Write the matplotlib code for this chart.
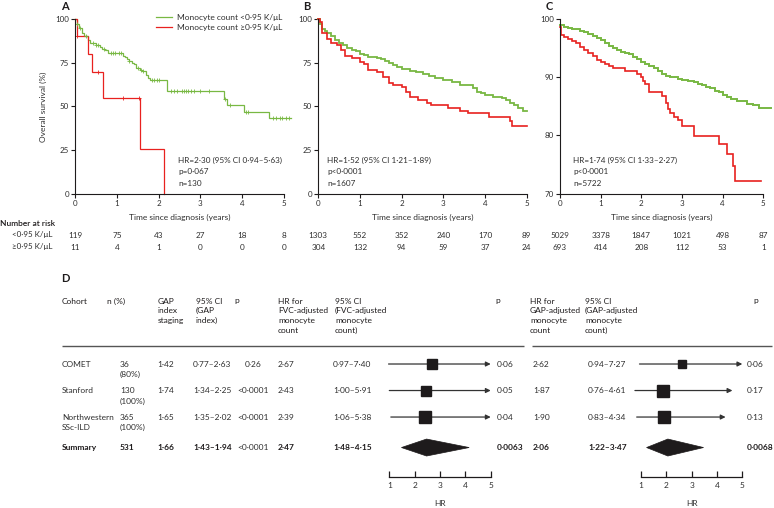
import matplotlib
matplotlib.use("Agg")
import matplotlib.pyplot as plt
import matplotlib.transforms as mtransforms
from matplotlib.patches import Polygon
import numpy as np

plt.rcParams['font.family'] = ['Lato', 'DejaVu Sans']

W, H = 774, 508
GREEN = '#78b843'
RED = '#e8211f'
INK = '#1e1b1c'
GREY = '#2e2e2e'

# ---- Kaplan-Meier curves ----
a_low_t = [0, 0.03, 0.08, 0.15, 0.2, 0.3, 0.35, 0.5, 0.6, 0.65, 0.72, 0.78, 1.15, 1.2, 1.25,
           1.3, 1.35, 1.4, 1.45, 1.55, 1.6, 1.7, 1.75, 1.8, 2.19, 3.57, 3.65, 4.05, 4.65, 5.17]
a_low_s = [100, 97, 95, 92, 90, 88, 86, 85, 84, 83, 82, 80.5, 79, 78, 77,
           76, 75, 74, 72, 71, 70, 68, 66.5, 65, 59, 54, 50.5, 47, 43.5, 43.5]
a_low_cens = [0.05, 0.12, 0.25, 0.42, 0.5, 0.55, 0.7, 0.85, 0.9, 0.95, 1.05, 1.1, 1.3, 1.5,
              1.58, 1.62, 1.85, 1.9, 1.95, 2.02, 2.3, 2.38, 2.45, 2.55, 2.6, 2.65, 2.7, 2.78,
              2.85, 3.0, 3.2, 3.6, 3.7, 4.1, 4.15, 4.75, 4.82, 4.9, 4.97, 5.05, 5.13]
a_high_t = [0, 0.03, 0.31, 0.4, 0.67, 1.55, 2.14]
a_high_s = [100, 90.5, 80, 69.5, 55, 25.5, 0]
a_high_cens = [0.05, 0.55, 1.15, 1.52]

b_low_t = [0, 0.05, 0.1, 0.15, 0.2, 0.3, 0.4, 0.5, 0.6, 0.7, 0.8, 0.9, 1.0, 1.1, 1.2, 1.3,
           1.4, 1.5, 1.6, 1.7, 1.8, 1.9, 2.0, 2.2, 2.35, 2.5, 2.65, 2.8, 3.0, 3.2, 3.4, 3.6,
           3.7, 3.8, 3.9, 4.0, 4.2, 4.4, 4.5, 4.6, 4.7, 4.8, 4.9, 5.0]
b_low_s = [100, 97, 94.5, 93, 92, 90, 88, 86.5, 85, 83.5, 82.5, 81.5, 80, 79.2, 78.5, 78,
           77.5, 77, 76, 75, 73.5, 72.5, 71.5, 70, 69.5, 68.5, 67.5, 66, 65, 64, 62.5, 62,
           60.5, 58, 57.5, 56.5, 55.5, 54.5, 53.5, 52, 51, 49, 47.5, 47.5]
b_high_t = [0, 0.03, 0.1, 0.2, 0.3, 0.45, 0.55, 0.65, 0.8, 1.0, 1.1, 1.2, 1.4, 1.55, 1.7,
            1.8, 2.0, 2.1, 2.2, 2.4, 2.6, 2.7, 3.1, 3.4, 3.6, 4.1, 4.6, 4.65, 5.0]
b_high_s = [100, 98, 92, 88.5, 86.5, 85, 82.5, 79, 77.5, 75.5, 74.5, 71, 69.5, 67, 63.5,
            62, 61, 58, 55.5, 53.5, 52, 51, 49, 47.5, 46, 44, 41.5, 39, 39]

c_low_t = [0, 0.1, 0.2, 0.3, 0.4, 0.5, 0.6, 0.7, 0.8, 0.9, 1.0, 1.1, 1.2, 1.3, 1.4, 1.5,
           1.6, 1.7, 1.8, 1.9, 2.0, 2.1, 2.2, 2.3, 2.4, 2.5, 2.6, 2.7, 2.8, 2.9, 3.0, 3.15,
           3.3, 3.4, 3.5, 3.6, 3.7, 3.8, 3.9, 4.0, 4.1, 4.2, 4.35, 4.6, 4.75, 4.9, 5.2]
c_low_s = [98.9, 98.7, 98.5, 98.3, 98.2, 98.0, 97.7, 97.4, 97.1, 96.8, 96.4, 95.9, 95.4,
           95.0, 94.7, 94.4, 94.2, 94.0, 93.5, 93.1, 92.7, 92.3, 91.9, 91.5, 91.0, 90.5,
           90.2, 90.1, 90.0, 89.7, 89.5, 89.3, 89.2, 88.9, 88.7, 88.4, 88.1, 87.7, 87.4,
           87.0, 86.6, 86.2, 86.0, 85.4, 85.3, 84.7, 84.7]
c_high_t = [0, 0.03, 0.1, 0.2, 0.3, 0.4, 0.5, 0.6, 0.7, 0.8, 0.9, 1.0, 1.1, 1.2, 1.3, 1.6,
            1.9, 2.0, 2.05, 2.1, 2.2, 2.5, 2.6, 2.65, 2.7, 2.8, 2.9, 3.0, 3.3, 3.9, 4.1,
            4.25, 4.3, 4.95]
c_high_s = [98.7, 97.3, 96.9, 96.6, 96.3, 95.8, 95.2, 94.6, 94.1, 93.6, 93.0, 92.6, 92.3,
            91.9, 91.5, 91.0, 90.6, 90.0, 89.4, 88.8, 87.4, 86.8, 85.5, 84.6, 83.8, 83.2,
            82.6, 81.6, 79.9, 78.5, 76.9, 74.8, 72.2, 72.2]

# ---- number at risk ----
risk_years = [0, 1, 2, 3, 4, 5]
a_risk_low = [119, 75, 43, 27, 18, 8]
a_risk_high = [11, 4, 1, 0, 0, 0]
b_risk_low = [1303, 552, 352, 240, 170, 89]
b_risk_high = [304, 132, 94, 59, 37, 24]
c_risk_low = [5029, 3378, 1847, 1021, 498, 87]
c_risk_high = [693, 414, 208, 112, 53, 1]

# ---- panel D table ----
cohort = ['COMET', 'Stanford', 'Northwestern', 'Summary']
cohort_sub = ['', '', 'SSc-ILD', '']
n_total = ['36', '130', '365', '531']
n_pct = ['(80%)', '(100%)', '(100%)', '']
gap_hr = [1.42, 1.74, 1.65, 1.66]
gap_lo = [0.77, 1.34, 1.35, 1.43]
gap_hi = [2.63, 2.25, 2.02, 1.94]
gap_p = ['0·26', '<0·0001', '<0·0001', '<0·0001']
fvc_hr = [2.67, 2.43, 2.39, 2.47]
fvc_lo = [0.97, 1.00, 1.06, 1.48]
fvc_hi = [7.40, 5.91, 5.38, 4.15]
fvc_p = ['0·06', '0·05', '0·04', '0·0063']
gapadj_hr = [2.62, 1.87, 1.90, 2.06]
gapadj_lo = [0.94, 0.76, 0.83, 1.22]
gapadj_hi = [7.27, 4.61, 4.34, 3.47]
gapadj_p = ['0·06', '0·17', '0·13', '0·0068']
row_pos = [0, 1, 2, 3.15]
sq_fvc = [6.7, 7.9, 8.9]
sq_gapadj = [5.6, 9.0, 9.0]


def fmt(v):
    return f"{v:.2f}".replace('.', '·')


def px_rect(left, top, right, bottom):
    return [left / W, 1 - bottom / H, (right - left) / W, (bottom - top) / H]


fig = plt.figure(figsize=(W / 100, H / 100), dpi=100)
ov = fig.add_axes([0, 0, 1, 1])
ov.set_xlim(0, W)
ov.set_ylim(H, 0)
ov.axis('off')


def km_axes(left, ppy, ylim, yticks):
    ax = fig.add_axes(px_rect(left, 19, left + 5.2 * ppy, 193.7))
    ax.patch.set_visible(False)
    ax.set_xlim(0, 5.2)
    ax.set_ylim(*ylim)
    for s in ['top', 'right']:
        ax.spines[s].set_visible(False)
    for s in ['left', 'bottom']:
        ax.spines[s].set_color(INK)
        ax.spines[s].set_linewidth(0.8)
    ax.spines['bottom'].set_bounds(0, 5)
    ax.set_xticks(risk_years)
    ax.set_yticks(yticks)
    ax.tick_params(length=3, width=0.8, color=INK, labelsize=5.8,
                   labelcolor=GREY, pad=1.5)
    return ax


def step(ax, t, s, color, lw):
    ax.plot(t, s, drawstyle='steps-post', color=color, lw=lw, clip_on=False,
            solid_joinstyle='miter')


def censor(ax, t, s, times, color):
    t = np.asarray(t)
    s = np.asarray(s)
    vals = s[np.searchsorted(t, times, side='right') - 1]
    ax.plot(times, vals, '+', ms=3.2, mew=0.6, color=color, clip_on=False)


ax_a = km_axes(75.3, 41.68, (0, 100), [0, 25, 50, 75, 100])
ax_b = km_axes(318.3, 41.68, (0, 100), [0, 25, 50, 75, 100])
ax_c = km_axes(560, 40.66, (70, 100), [70, 80, 90, 100])

step(ax_a, a_low_t, a_low_s, GREEN, 0.9)
step(ax_a, a_high_t, a_high_s, RED, 0.9)
censor(ax_a, a_low_t, a_low_s, a_low_cens, GREEN)
censor(ax_a, a_high_t, a_high_s, a_high_cens, RED)
step(ax_b, b_low_t, b_low_s, GREEN, 1.3)
step(ax_b, b_high_t, b_high_s, RED, 1.2)
step(ax_c, c_low_t, c_low_s, GREEN, 1.4)
step(ax_c, c_high_t, c_high_s, RED, 1.2)

ax_a.plot([], [], color=GREEN, lw=0.9, label='Monocyte count <0·95 K/μL')
ax_a.plot([], [], color=RED, lw=0.9, label='Monocyte count ≥0·95 K/μL')
ax_a.legend(loc='upper left', bbox_to_anchor=(156 / W, 1 - 14 / H),
            bbox_transform=fig.transFigure, frameon=False, fontsize=6,
            handlelength=1.9, handletextpad=0.6, labelspacing=0.35,
            borderpad=0, borderaxespad=0, labelcolor=GREY)

# panel letters and labels
for lab, x in [('A', 61), ('B', 303), ('C', 546)]:
    ov.text(x, 6, lab, fontsize=8, fontweight='bold', color=INK, va='center')
ov.text(43, 107, 'Overall survival (%)', rotation=90, fontsize=6, color=GREY,
        ha='center', va='center')

stats = [
    (178, 'HR=2·30 (95% CI 0·94–5·63)', 'p=0·067', 'n=130'),
    (327, 'HR=1·52 (95% CI 1·21–1·89)', 'p<0·0001', 'n=1607'),
    (573, 'HR=1·74 (95% CI 1·33–2·27)', 'p<0·0001', 'n=5722'),
]
for x, hr, p, n in stats:
    for y, txt in zip([160, 171.5, 183], [hr, p, n]):
        ov.text(x, y, txt, fontsize=5.9, color=GREY, va='center')

ov.text(0, 223, 'Number at risk', fontsize=6, fontweight='semibold', color=INK,
        va='center')
ov.text(52, 235, '<0·95 K/μL', fontsize=5.8, color=GREY, va='center', ha='right')
ov.text(52, 247, '≥0·95 K/μL', fontsize=5.8, color=GREY, va='center', ha='right')

for ax, low, high in [(ax_a, a_risk_low, a_risk_high),
                      (ax_b, b_risk_low, b_risk_high),
                      (ax_c, c_risk_low, c_risk_high)]:
    tr = mtransforms.blended_transform_factory(ax.transData, ov.transData)
    for x, lo_n, hi_n in zip(risk_years, low, high):
        ov.text(x, 235, str(lo_n), transform=tr, fontsize=5.9, color=GREY,
                ha='center', va='center')
        ov.text(x, 247, str(hi_n), transform=tr, fontsize=5.9, color=GREY,
                ha='center', va='center')
    ov.text(2.5, 217, 'Time since diagnosis (years)', transform=tr, fontsize=6,
            color=GREY, ha='center', va='center')

# ---- panel D ----
ov.text(61, 279, 'D', fontsize=8, fontweight='bold', color=INK, va='center')
ov.hlines(346, 62, 524, color='#555555', lw=1)
ov.hlines(346, 532, 772, color='#555555', lw=1)

headers = [
    (62, 'Cohort'), (107, 'n (%)'), (158, 'GAP\nindex\nstaging'),
    (196, '95% CI\n(GAP\nindex)'), (234, 'p'),
    (278, 'HR for\nFVC-adjusted\nmonocyte\ncount'),
    (335, '95% CI\n(FVC-adjusted\nmonocyte\ncount)'), (495, 'p'),
    (530, 'HR for\nGAP-adjusted\nmonocyte\ncount'),
    (585, '95% CI\n(GAP-adjusted\nmonocyte\ncount)'), (753, 'p'),
]
for x, txt in headers:
    ov.text(x, 297.5, txt, fontsize=6, color=INK, va='top', linespacing=1.45)


def forest_axes(left, right, hr, lo, hi, sizes):
    ax = fig.add_axes(px_rect(left, 350.75, right, 476.7))
    ax.patch.set_visible(False)
    ax.set_xlim(1, 5)
    ax.set_ylim(4.25, -0.5)
    for s in ['top', 'right', 'left']:
        ax.spines[s].set_visible(False)
    ax.spines['bottom'].set_color(INK)
    ax.spines['bottom'].set_linewidth(0.9)
    ax.set_yticks([])
    ax.set_xticks([1, 2, 3, 4, 5])
    ax.tick_params(axis='x', direction='in', length=4, width=0.9, color=INK,
                   labelsize=6, labelcolor=GREY, pad=4)
    ax.set_xlabel('HR', fontsize=6, color=GREY, labelpad=8)
    for i in range(3):
        y = row_pos[i]
        ax.annotate('', xy=(min(hi[i], 5), y), xytext=(lo[i], y),
                    arrowprops=dict(arrowstyle='-|>', color='#333333', lw=0.9,
                                    mutation_scale=7, shrinkA=0, shrinkB=0),
                    annotation_clip=False)
        ax.plot(hr[i], y, 's', ms=sizes[i], color=INK, zorder=5, clip_on=False)
    y = row_pos[3]
    h = 0.32
    ax.add_patch(Polygon([(lo[3], y), (hr[3], y - h), (hi[3], y), (hr[3], y + h)],
                         closed=True, facecolor=INK, edgecolor=INK, lw=0.5))
    return ax


fa1 = forest_axes(389.3, 490.7, fvc_hr, fvc_lo, fvc_hi, sq_fvc)
fa2 = forest_axes(641, 742.3, gapadj_hr, gapadj_lo, gapadj_hi, sq_gapadj)

tr = mtransforms.blended_transform_factory(ov.transData, fa1.transData)


def cell(x, y, txt, bold=False, ha='left'):
    ov.text(x, y, txt, transform=tr, fontsize=6, color=INK if bold else GREY,
            fontweight='bold' if bold else 'normal', va='center', ha=ha)


for i in range(4):
    y = row_pos[i]
    b = i == 3
    cell(62, y, cohort[i], bold=b)
    if cohort_sub[i]:
        cell(62, y + 0.4, cohort_sub[i])
    cell(120, y, n_total[i], bold=b)
    if n_pct[i]:
        cell(120, y + 0.4, n_pct[i])
    cell(157, y, fmt(gap_hr[i]), bold=b)
    cell(193, y, f"{fmt(gap_lo[i])}–{fmt(gap_hi[i])}", bold=b)
    cell(253, y, gap_p[i], ha='center')
    cell(278, y, fmt(fvc_hr[i]), bold=b)
    cell(333, y, f"{fmt(fvc_lo[i])}–{fmt(fvc_hi[i])}", bold=b)
    cell(497, y, fvc_p[i], bold=b)
    cell(533, y, fmt(gapadj_hr[i]), bold=b)
    cell(588, y, f"{fmt(gapadj_lo[i])}–{fmt(gapadj_hi[i])}", bold=b)
    cell(747, y, gapadj_p[i], bold=b)

fig.savefig('out.png', dpi=100)
